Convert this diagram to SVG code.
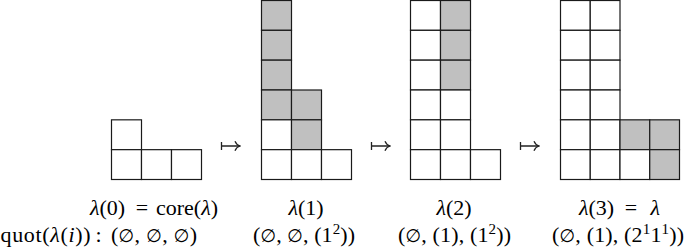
<svg xmlns="http://www.w3.org/2000/svg" width="685" height="250" viewBox="0 0 685 250">
<style>
.c{fill:#fff;stroke:#1a1a1a;stroke-width:1.2}
.s{fill:#c0c0c0;stroke:#1a1a1a;stroke-width:1.2}
.t{font-family:"Liberation Serif","DejaVu Serif","Times New Roman",serif;font-size:22px;fill:#000}
.i{font-style:italic}
.e{font-family:"DejaVu Sans","Liberation Sans",sans-serif;font-size:18px}
.sup{font-size:15px}
.arr{fill:none;stroke:#222;stroke-width:1.3;stroke-linecap:butt}
</style>
<defs>
<marker id="hook" viewBox="0 0 10 12" refX="9" refY="6" markerWidth="10" markerHeight="12" markerUnits="userSpaceOnUse" orient="auto">
<path d="M4,1.2 Q5.5,5 9,6 Q5.5,7 4,10.8" fill="none" stroke="#222" stroke-width="1.3"/>
</marker>
</defs>
<rect width="685" height="250" fill="#fff"/>
<g id="lambda0">
<rect class="c" x="111.5" y="119.83" width="30" height="29.84"/>
<rect class="c" x="111.5" y="149.67" width="30" height="29.83"/>
<rect class="c" x="141.5" y="149.67" width="30" height="29.83"/>
<rect class="c" x="171.5" y="149.67" width="30" height="29.83"/>
</g>
<g id="lambda1">
<rect class="s" x="261.5" y="0.5" width="30" height="29.83"/>
<rect class="s" x="261.5" y="30.33" width="30" height="29.84"/>
<rect class="s" x="261.5" y="60.17" width="30" height="29.83"/>
<rect class="s" x="261.5" y="90" width="30" height="29.83"/>
<rect class="s" x="291.5" y="90" width="30" height="29.83"/>
<rect class="c" x="261.5" y="119.83" width="30" height="29.84"/>
<rect class="s" x="291.5" y="119.83" width="30" height="29.84"/>
<rect class="c" x="261.5" y="149.67" width="30" height="29.83"/>
<rect class="c" x="291.5" y="149.67" width="30" height="29.83"/>
<rect class="c" x="321.5" y="149.67" width="30" height="29.83"/>
</g>
<g id="lambda2">
<rect class="c" x="410.5" y="0.5" width="30" height="29.83"/>
<rect class="s" x="440.5" y="0.5" width="30" height="29.83"/>
<rect class="c" x="410.5" y="30.33" width="30" height="29.84"/>
<rect class="s" x="440.5" y="30.33" width="30" height="29.84"/>
<rect class="c" x="410.5" y="60.17" width="30" height="29.83"/>
<rect class="s" x="440.5" y="60.17" width="30" height="29.83"/>
<rect class="c" x="410.5" y="90" width="30" height="29.83"/>
<rect class="c" x="440.5" y="90" width="30" height="29.83"/>
<rect class="c" x="410.5" y="119.83" width="30" height="29.84"/>
<rect class="c" x="440.5" y="119.83" width="30" height="29.84"/>
<rect class="c" x="410.5" y="149.67" width="30" height="29.83"/>
<rect class="c" x="440.5" y="149.67" width="30" height="29.83"/>
<rect class="c" x="470.5" y="149.67" width="30" height="29.83"/>
</g>
<g id="lambda3">
<rect class="c" x="560.5" y="0.5" width="29.75" height="29.83"/>
<rect class="c" x="590.25" y="0.5" width="29.75" height="29.83"/>
<rect class="c" x="560.5" y="30.33" width="29.75" height="29.84"/>
<rect class="c" x="590.25" y="30.33" width="29.75" height="29.84"/>
<rect class="c" x="560.5" y="60.17" width="29.75" height="29.83"/>
<rect class="c" x="590.25" y="60.17" width="29.75" height="29.83"/>
<rect class="c" x="560.5" y="90" width="29.75" height="29.83"/>
<rect class="c" x="590.25" y="90" width="29.75" height="29.83"/>
<rect class="c" x="560.5" y="119.83" width="29.75" height="29.84"/>
<rect class="c" x="590.25" y="119.83" width="29.75" height="29.84"/>
<rect class="s" x="620" y="119.83" width="29.75" height="29.84"/>
<rect class="s" x="649.75" y="119.83" width="29.75" height="29.84"/>
<rect class="c" x="560.5" y="149.67" width="29.75" height="29.83"/>
<rect class="c" x="590.25" y="149.67" width="29.75" height="29.83"/>
<rect class="c" x="620" y="149.67" width="29.75" height="29.83"/>
<rect class="s" x="649.75" y="149.67" width="29.75" height="29.83"/>
</g>
<g id="connectors">
<path class="arr" d="M221.5,142 V150 M221.5,146 H240" marker-end="url(#hook)"/>
<path class="arr" d="M371.5,142 V150 M371.5,146 H390" marker-end="url(#hook)"/>
<path class="arr" d="M520.5,142 V150 M520.5,146 H539" marker-end="url(#hook)"/>
</g>
<g id="labels">
<text class="t" x="90" y="215"><tspan class="i">λ</tspan>(0)</text>
<text class="t" x="142" y="215" text-anchor="middle">=</text>
<text class="t" x="218" y="215" text-anchor="end">core(<tspan class="i">λ</tspan>)</text>
<text class="t" x="306" y="215" text-anchor="middle"><tspan class="i">λ</tspan>(1)</text>
<text class="t" x="454" y="215" text-anchor="middle"><tspan class="i">λ</tspan>(2)</text>
<text class="t" x="579" y="215"><tspan class="i">λ</tspan>(3)</text>
<text class="t" x="631" y="215" text-anchor="middle">=</text>
<text class="t i" x="660" y="215" text-anchor="end">λ</text>
<text class="t" x="0.5" y="242" textLength="90" lengthAdjust="spacing">quot(<tspan class="i">λ</tspan>(<tspan class="i">i</tspan>))</text>
<text class="t" x="95.5" y="242">:</text>
<text class="t" x="111" y="242" textLength="86" lengthAdjust="spacing">(<tspan class="e">∅</tspan>, <tspan class="e">∅</tspan>, <tspan class="e">∅</tspan>)</text>
<text class="t" x="253" y="242" textLength="102" lengthAdjust="spacing">(<tspan class="e">∅</tspan>, <tspan class="e">∅</tspan>, (1<tspan class="sup" dy="-8">2</tspan><tspan dy="8">))</tspan></text>
<text class="t" x="398" y="242" textLength="113" lengthAdjust="spacing">(<tspan class="e">∅</tspan>, (1), (1<tspan class="sup" dy="-8">2</tspan><tspan dy="8">))</tspan></text>
<text class="t" x="552" y="242" textLength="132" lengthAdjust="spacing">(<tspan class="e">∅</tspan>, (1), (2<tspan class="sup" dy="-8">1</tspan><tspan dy="8">1</tspan><tspan class="sup" dy="-8">1</tspan><tspan dy="8">))</tspan></text>
</g>
</svg>
